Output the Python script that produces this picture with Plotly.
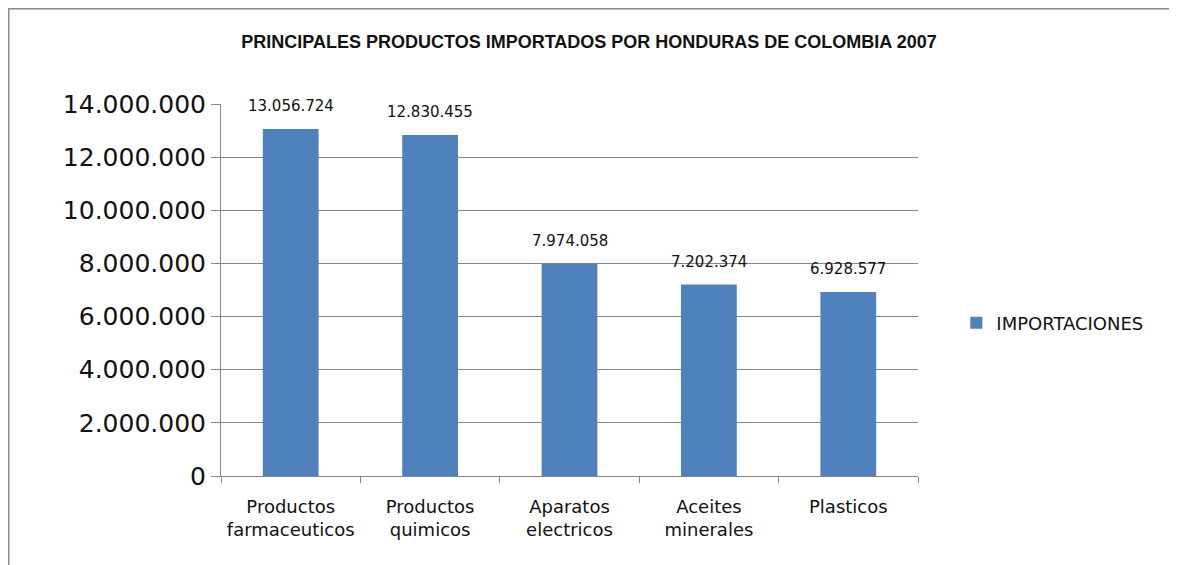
import plotly.graph_objects as go

# datos
categorias = ["Productos<br>farmaceuticos", "Productos<br>quimicos", "Aparatos<br>electricos",
              "Aceites<br>minerales", "Plasticos"]
importaciones = [13056724, 12830455, 7974058, 7202374, 6928577]
ticks_y = [0, 2000000, 4000000, 6000000, 8000000, 10000000, 12000000, 14000000]

fig = go.Figure()

fig.add_trace(go.Bar(
    x=categorias, y=importaciones, name="IMPORTACIONES",
    marker=dict(color="#4F81BD", line=dict(width=0)),
    width=0.4,
))

# etiquetas de datos
for cat, val in zip(categorias, importaciones):
    fig.add_annotation(x=cat, y=val, text=f"{val:,}".replace(",", "."),
                       showarrow=False, yanchor="middle", yshift=23,
                       font=dict(family="DejaVu Sans", size=15, color="#111111"))

fig.update_layout(
    width=1169, height=557,
    margin=dict(l=213, r=259, t=96, b=89),
    paper_bgcolor="white", plot_bgcolor="white",
    separators=",.",
    title=dict(text="<b>PRINCIPALES PRODUCTOS IMPORTADOS POR HONDURAS DE COLOMBIA 2007</b>",
               x=0.497, xanchor="center", y=0.94, yanchor="middle",
               font=dict(family="Liberation Sans", size=18, color="#111111")),
    showlegend=True,
    legend=dict(x=1.055, y=0.411, xanchor="left", yanchor="middle",
                font=dict(family="DejaVu Sans", size=18, color="#111111"),
                itemwidth=30),
)

fig.update_yaxes(
    range=[0, 14000000], tickvals=ticks_y, tickformat=",.0f",
    showgrid=True, gridcolor="#868686", gridwidth=1,
    showline=True, linecolor="#868686", linewidth=1,
    ticks="outside", ticklen=9, tickcolor="#868686",
    tickfont=dict(family="DejaVu Sans", size=25, color="#111111"),
    zeroline=False,
)

fig.update_xaxes(
    showline=True, linecolor="#868686", linewidth=1,
    ticks="outside", ticklen=6, tickcolor="#868686", tickson="boundaries",
    tickfont=dict(family="DejaVu Sans", size=18, color="#111111"),
    ticklabelstandoff=14,
    showgrid=False,
)

# marco del grafico
fig.add_shape(type="rect", xref="paper", yref="paper",
              x0=-0.3056, x1=1.3644, y0=-0.3, y1=1.258,
              line=dict(color="#8a8a8a", width=3), fillcolor="rgba(0,0,0,0)", layer="below")

fig.write_html("out.html")
